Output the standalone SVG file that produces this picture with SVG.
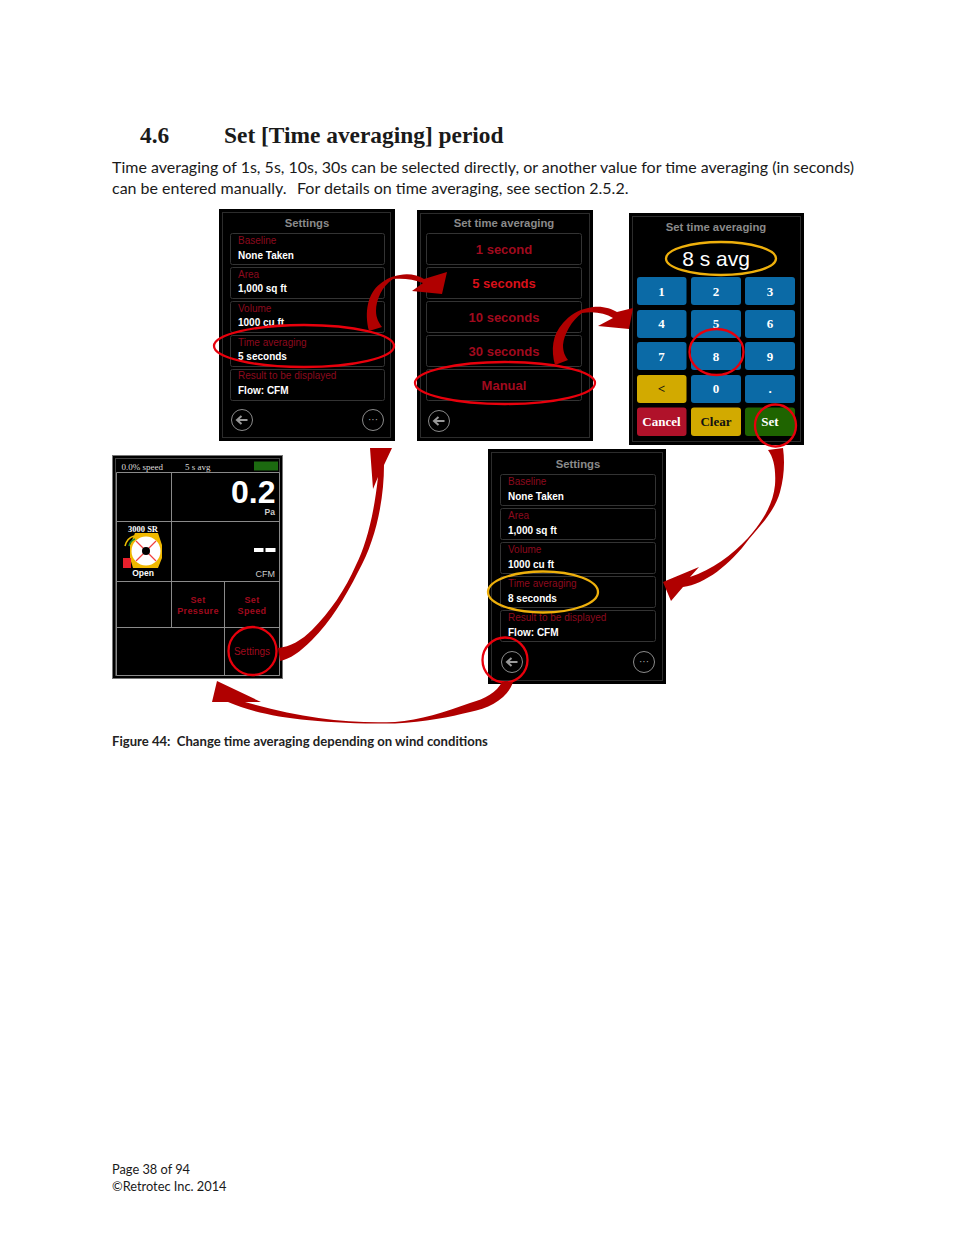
<svg xmlns="http://www.w3.org/2000/svg" width="954" height="1235" viewBox="0 0 954 1235">
<style>
text{font-family:"Liberation Sans",Arial,sans-serif}
.doc{font-family:Lato,"Liberation Sans",sans-serif;font-size:16px;fill:#1a1a1a}
.foot{font-size:12.800px}
.h{font-family:"Liberation Serif",serif;font-weight:bold;font-size:23.400px;fill:#1a1a1a}
.p{fill:#000;stroke:#000;stroke-width:1}
.in{fill:none;stroke:#2c2c2c;stroke-width:1}
.row{fill:#000;stroke:#333;stroke-width:1}
.t{font-size:11.300px;font-weight:bold;fill:#8a8a8a;text-anchor:middle}
.rl{font-size:10px;fill:#8c0a1e}
.v{font-size:10px;font-weight:bold;fill:#fff}
.opt{font-size:13px;font-weight:bold;fill:#a00a1e;text-anchor:middle}
.cr{fill:none;stroke:#e8000c;stroke-width:2.300}
.cy{fill:none;stroke:#eeb00c;stroke-width:2.300}
.b{font-family:"Liberation Serif",serif;font-size:13px;font-weight:bold;fill:#fff;text-anchor:middle}
.bb{fill:#0b6aa6}.by{fill:#d2aa00}
.g{fill:none;stroke:#8a8a8a;stroke-width:1}
.arr{fill:#b00000}
.m{stroke:#8a8a8a;stroke-width:1;fill:none}
.ser{font-family:"Liberation Serif",serif}
</style>

<text class="h" x="140" y="143">4.6</text>
<text class="h" x="224" y="143">Set [Time averaging] period</text>
<text class="doc" x="112" y="173">Time averaging of 1s, 5s, 10s, 30s can be selected directly, or another value for time averaging (in seconds)</text>
<text class="doc" y="194"><tspan x="112">can be entered manually.</tspan><tspan x="297">For details on time averaging, see section 2.5.2.</tspan></text>

<g id="settings-1">
<rect class="p" x="219.500" y="209.500" width="175" height="231"/>
<rect class="in" x="222.500" y="212.500" width="168" height="225"/>
<text class="t" x="307" y="227">Settings</text>
<rect class="row" x="230.500" y="233.500" width="154" height="31" rx="2"/>
<rect class="row" x="230.500" y="267.500" width="154" height="31" rx="2"/>
<rect class="row" x="230.500" y="301.500" width="154" height="31" rx="2"/>
<rect class="row" x="230.500" y="335.500" width="154" height="31" rx="2"/>
<rect class="row" x="230.500" y="369.500" width="154" height="31" rx="2"/>
<text class="rl" x="238" y="244">Baseline</text><text class="v" x="238" y="259">None Taken</text>
<text class="rl" x="238" y="278">Area</text><text class="v" x="238" y="292">1,000 sq ft</text>
<text class="rl" x="238" y="312">Volume</text><text class="v" x="238" y="326">1000 cu ft</text>
<text class="rl" x="238" y="346">Time averaging</text><text class="v" x="238" y="360">5 seconds</text>
<text class="rl" x="238" y="379">Result to be displayed</text><text class="v" x="238" y="394">Flow: CFM</text>
<circle class="g" cx="242" cy="420" r="10.500"/>
<path d="M247.500 420H237.500M241.500 416L237 420L241.500 424" fill="none" stroke="#999" stroke-width="2"/>
<circle class="g" cx="373" cy="420" r="10.500"/>
<text x="373" y="423" font-size="10" fill="#aaa" text-anchor="middle">···</text>
<ellipse class="cr" cx="304" cy="346" rx="90" ry="21"/>
</g>

<g id="time-options">
<rect class="p" x="417.500" y="210.500" width="175" height="230"/>
<rect class="in" x="420.500" y="213.500" width="169" height="224"/>
<text class="t" x="504" y="227">Set time averaging</text>
<rect class="row" x="426.500" y="233.500" width="155" height="31" rx="2"/>
<rect class="row" x="426.500" y="267.500" width="155" height="31" rx="2"/>
<rect class="row" x="426.500" y="301.500" width="155" height="31" rx="2"/>
<rect class="row" x="426.500" y="335.500" width="155" height="31" rx="2"/>
<rect class="row" x="426.500" y="369.500" width="155" height="31" rx="2"/>
<text class="opt" x="504" y="254">1 second</text>
<text class="opt" x="504" y="288" style="fill:#d8101a">5 seconds</text>
<text class="opt" x="504" y="322">10 seconds</text>
<text class="opt" x="504" y="356">30 seconds</text>
<text class="opt" x="504" y="390">Manual</text>
<circle class="g" cx="439" cy="421" r="10.500"/>
<path d="M444.500 421H434.500M438.500 417L434 421L438.500 425" fill="none" stroke="#999" stroke-width="2"/>
<ellipse class="cr" cx="505" cy="383" rx="90" ry="21"/>
</g>

<g id="keypad">
<rect class="p" x="629.500" y="213.500" width="174" height="231"/>
<rect class="in" x="632.500" y="216.500" width="168" height="225"/>
<text class="t" x="716" y="231">Set time averaging</text>
<text x="716" y="266" font-size="21" fill="#fff" text-anchor="middle">8 s avg</text>
<ellipse class="cy" cx="721" cy="258.500" rx="55" ry="16.500"/>
<rect class="bb" x="637" y="277" width="49.500" height="28" rx="3"/><text class="b" x="661.500" y="296">1</text>
<rect class="bb" x="691" y="277" width="50" height="28" rx="3"/><text class="b" x="716" y="296">2</text>
<rect class="bb" x="745" y="277" width="50" height="28" rx="3"/><text class="b" x="770" y="296">3</text>
<rect class="bb" x="637" y="310" width="49.500" height="28" rx="3"/><text class="b" x="661.500" y="328">4</text>
<rect class="bb" x="691" y="310" width="50" height="28" rx="3"/><text class="b" x="716" y="328">5</text>
<rect class="bb" x="745" y="310" width="50" height="28" rx="3"/><text class="b" x="770" y="328">6</text>
<rect class="bb" x="637" y="342" width="49.500" height="28" rx="3"/><text class="b" x="661.500" y="361">7</text>
<rect class="bb" x="691" y="342" width="50" height="28" rx="3"/><text class="b" x="716" y="361">8</text>
<rect class="bb" x="745" y="342" width="50" height="28" rx="3"/><text class="b" x="770" y="361">9</text>
<rect class="by" x="637" y="375" width="49.500" height="28" rx="3"/><text class="b" x="661.500" y="393" style="fill:#111">&lt;</text>
<rect class="bb" x="691" y="375" width="50" height="28" rx="3"/><text class="b" x="716" y="393">0</text>
<rect class="bb" x="745" y="375" width="50" height="28" rx="3"/><text class="b" x="770" y="393">.</text>
<rect x="637" y="407.500" width="49.500" height="28.500" rx="3" fill="#b0122a"/><text class="b" x="661.500" y="426">Cancel</text>
<rect class="by" x="691" y="407.500" width="50" height="28.500" rx="3"/><text class="b" x="716" y="426" style="fill:#111">Clear</text>
<rect x="745" y="407.500" width="50" height="28.500" rx="3" fill="#1f6400"/><text class="b" x="770" y="426">Set</text>
<ellipse class="cr" cx="716.500" cy="352" rx="27" ry="23"/>
<ellipse class="cr" cx="775.500" cy="425.500" rx="20.500" ry="21"/>
</g>

<g id="main-screen">
<rect x="112" y="455" width="171" height="224" fill="#000"/>
<rect x="112.500" y="455.500" width="170" height="223" fill="none" stroke="#777"/>
<rect x="115.500" y="458.500" width="164" height="217" fill="none" stroke="#444"/>
<path class="m" d="M116.500 472.500H279.500M116.500 521.500H279.500M116.500 581.500H279.500M116.500 627.500H279.500M171.500 472.500V627.500M224.500 581.500V675.500M116.500 675.500H279.500M116.500 472.500V675.500M279.500 472.500V675.500"/>
<text class="ser" x="121.500" y="470" font-size="9" fill="#ddd">0.0% speed</text>
<text class="ser" x="185" y="470" font-size="9" fill="#ddd">5 s avg</text>
<rect x="254" y="461.500" width="24" height="9" fill="#1c6a10"/>
<text x="275.500" y="503" font-size="32" font-weight="bold" fill="#fff" text-anchor="end">0.2</text>
<text x="275" y="514.500" font-size="8.500" font-weight="bold" fill="#ccc" text-anchor="end">Pa</text>
<rect x="254" y="548" width="9.500" height="4" fill="#fff"/><rect x="265.500" y="548" width="10" height="4" fill="#fff"/>
<text x="275" y="577" font-size="9" fill="#ccc" text-anchor="end">CFM</text>
<text class="ser" x="143" y="532" font-size="8.500" font-weight="bold" fill="#fff" text-anchor="middle">3000 SR</text>
<path d="M135 533H158L162 545V558L158 568H133L130 558V545Z" fill="#f0b800"/>
<circle cx="146" cy="551" r="14.500" fill="#fff"/>
<path d="M136 541L156 561M156 541L136 561" stroke="#f04040" stroke-width="1.200"/>
<circle cx="146" cy="551" r="4" fill="#000"/>
<rect x="123" y="558" width="8" height="10" fill="#e8202c"/>
<path d="M125 546Q127 538 134 536" fill="none" stroke="#f0c000" stroke-width="1.500"/>
<path d="M129 546Q130 541 135 539" fill="none" stroke="#1a8a30" stroke-width="1.500"/>
<text x="143" y="576" font-size="8.500" font-weight="bold" fill="#fff" text-anchor="middle">Open</text>
<g font-size="9" font-weight="bold" fill="#a00a1e" text-anchor="middle" style="letter-spacing:.4px">
<text x="198" y="603">Set</text><text x="198" y="613.500">Pressure</text>
<text x="252" y="603">Set</text><text x="252" y="613.500">Speed</text>
</g>
<text x="252" y="655" font-size="10" fill="#a00a1e" text-anchor="middle">Settings</text>
<circle class="cr" cx="252.500" cy="651" r="24"/>
</g>

<g id="settings-2">
<rect class="p" x="488.500" y="449.500" width="177" height="234"/>
<rect class="in" x="491.500" y="452.500" width="171" height="228"/>
<text class="t" x="578" y="468">Settings</text>
<rect class="row" x="500.500" y="474.500" width="155" height="31" rx="2"/>
<rect class="row" x="500.500" y="508.500" width="155" height="31" rx="2"/>
<rect class="row" x="500.500" y="542.500" width="155" height="31" rx="2"/>
<rect class="row" x="500.500" y="576.500" width="155" height="31" rx="2"/>
<rect class="row" x="500.500" y="610.500" width="155" height="31" rx="2"/>
<text class="rl" x="508" y="485">Baseline</text><text class="v" x="508" y="500">None Taken</text>
<text class="rl" x="508" y="519">Area</text><text class="v" x="508" y="534">1,000 sq ft</text>
<text class="rl" x="508" y="553">Volume</text><text class="v" x="508" y="568">1000 cu ft</text>
<text class="rl" x="508" y="587">Time averaging</text><text class="v" x="508" y="602">8 seconds</text>
<text class="rl" x="508" y="621">Result to be displayed</text><text class="v" x="508" y="636">Flow: CFM</text>
<circle class="g" cx="512" cy="662" r="10.500"/>
<path d="M517.500 662H507.500M511.500 658L507 662L511.500 666" fill="none" stroke="#999" stroke-width="2"/>
<circle class="g" cx="644" cy="662" r="10.500"/>
<text x="644" y="665" font-size="10" fill="#aaa" text-anchor="middle">···</text>
<ellipse class="cy" cx="543" cy="592" rx="55" ry="20.500"/>
<circle class="cr" cx="505" cy="660" r="22.500"/>
</g>

<g id="connectors">
<path class="arr" d="M369 331C364 312 368 293 380 284C386 279 392 276 400 275C408 273 418 275 424 279L447 272L442 294L412 291L423 283C414 279 402 278 393 279C382 286 376 300 376 311C376 318 379 323 382 327Z"/>
<path class="arr" d="M555 365C551 350 552 335 563 323C570 315 578 310 588 308C600 305 610 308 617 312L633 308L629 329L598 326L613 318C605 313 594 311 582 313C572 320 564 334 563 345C563 352 565 356 568 360Z"/>
<path class="arr" d="M278 648C290 647 302 640 312 630C330 612 345 590 356 565C366 545 374 515 378 477L373 489L370 448L392 448L384 465C384 500 376 540 358 572C345 598 330 622 312 640C300 652 290 659 280 661Z"/>
<path class="arr" d="M768 450C774 458 776 470 775 485C773 505 762 522 748 538C732 555 712 570 690 577L699 567L663 582L671 601L683 587C705 584 730 565 749 539C762 524 775 510 780 492C784 478 785 462 783 448Z"/>
<path class="arr" d="M502 682C497 692 485 699 470 703C445 712 420 720 395 722C350 724 300 718 245 702L261 702L217 681L212 702L228 702C260 716 310 724 395 723.500C425 722 450 717 470 712C490 708 508 698 513 682Z"/>
</g>

<text x="112" y="746" font-size="13.100" font-weight="bold" fill="#222" style="font-family:Lato,'Liberation Sans',sans-serif;white-space:pre">Figure 44:  Change time averaging depending on wind conditions</text>
<text class="doc foot" x="112" y="1174">Page 38 of 94</text>
<text class="doc foot" x="112" y="1191">©Retrotec Inc. 2014</text>
</svg>
